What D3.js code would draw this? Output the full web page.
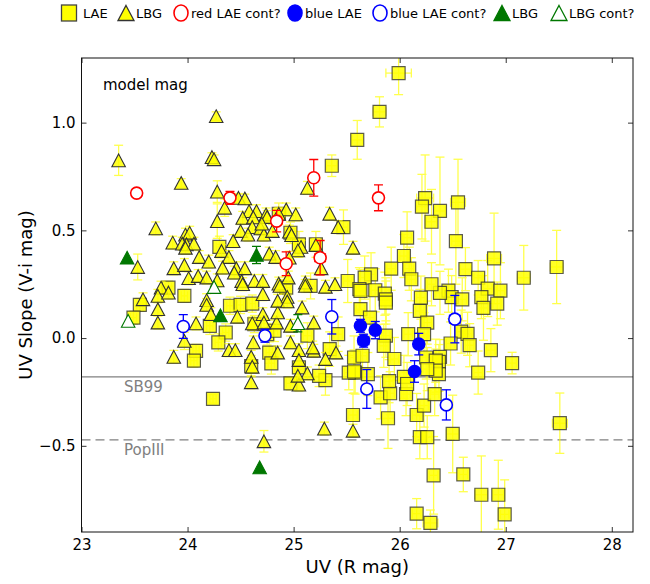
<!DOCTYPE html>
<html>
<head>
<meta charset="utf-8">
<script src="https://cdn.jsdelivr.net/npm/d3@7"></script>
<style>
  body { margin: 0; background: #fff; }
  svg { font-family: "DejaVu Sans", sans-serif; }
</style>
</head>
<body>
<script>
// [UV (R mag), UV slope, x error, y error]
var laePoints = [
  [25.99, 1.23, 0.12, 0.10], [25.81, 1.05, 0.06, 0.07], [25.60, 0.92, 0.05, 0.09],
  [25.36, 0.80, 0.05, 0.05], [26.24, 0.65, 0.08, 0.20], [26.21, 0.61, 0.05, 0.15],
  [26.38, 0.59, 0.05, 0.25], [26.55, 0.63, 0.07, 0.20], [26.30, 0.54, 0.05, 0.15],
  [26.53, 0.45, 0.04, 0.20], [26.89, 0.37, 0.07, 0.21], [26.62, 0.32, 0.05, 0.10],
  [26.74, 0.28, 0.04, 0.08], [27.17, 0.28, 0.06, 0.15], [27.48, 0.33, 0.06, 0.17],
  [26.83, 0.23, 0.04, 0.13], [26.95, 0.22, 0.04, 0.13], [26.46, 0.22, 0.04, 0.10],
  [26.49, 0.19, 0.04, 0.10], [26.59, 0.18, 0.04, 0.10], [26.38, 0.21, 0.04, 0.10],
  [26.77, 0.19, 0.04, 0.10], [26.92, 0.16, 0.04, 0.10], [26.79, 0.14, 0.04, 0.15],
  [26.58, 0.03, 0.04, 0.10], [26.64, 0.02, 0.04, 0.10], [26.48, -0.025, 0.04, 0.10],
  [26.66, -0.033, 0.04, 0.10], [26.86, -0.056, 0.04, 0.10], [27.06, -0.116, 0.04, 0.05],
  [26.38, -0.087, 0.04, 0.08], [26.37, -0.11, 0.04, 0.08], [26.74, -0.16, 0.04, 0.10],
  [26.37, -0.167, 0.04, 0.08], [27.51, -0.395, 0.07, 0.14], [26.50, -0.445, 0.06, 0.18],
  [26.19, -0.46, 0.04, 0.10], [26.26, -0.46, 0.04, 0.10], [26.32, -0.637, 0.04, 0.18],
  [26.60, -0.633, 0.04, 0.08], [26.77, -0.727, 0.06, 0.18], [26.93, -0.727, 0.05, 0.16],
  [26.16, -0.815, 0.04, 0.07], [26.29, -0.858, 0.07, 0.06], [26.99, -0.818, 0.04, 0.16],
  [25.89, -0.372, 0.06, 0.14], [26.16, -0.357, 0.04, 0.10], [26.23, -0.313, 0.04, 0.10],
  [26.33, -0.26, 0.04, 0.10], [26.06, -0.26, 0.04, 0.10], [25.82, -0.275, 0.04, 0.10],
  [25.91, -0.256, 0.04, 0.10], [25.56, -0.357, 0.04, 0.10], [25.90, -0.20, 0.04, 0.10],
  [26.04, -0.18, 0.04, 0.10], [26.07, -0.213, 0.04, 0.10], [25.70, -0.167, 0.04, 0.10],
  [25.58, -0.16, 0.04, 0.10], [24.24, -0.282, 0.03, 0.02], [24.97, -0.21, 0.04, 0.03],
  [25.30, -0.195, 0.04, 0.07], [25.24, -0.175, 0.04, 0.05], [24.60, -0.13, 0.03, 0.05],
  [25.52, -0.16, 0.04, 0.08], [25.47, 0.515, 0.04, 0.08], [26.07, 0.466, 0.04, 0.12],
  [26.04, 0.381, 0.04, 0.10], [26.09, 0.322, 0.04, 0.10], [26.11, 0.273, 0.04, 0.10],
  [25.92, 0.322, 0.04, 0.10], [25.73, 0.296, 0.04, 0.10], [25.67, 0.281, 0.04, 0.10],
  [25.51, 0.265, 0.04, 0.10], [25.62, 0.227, 0.04, 0.10], [25.77, 0.222, 0.04, 0.10],
  [25.86, 0.206, 0.04, 0.10], [25.87, 0.18, 0.04, 0.10], [25.16, 0.242, 0.04, 0.06],
  [25.05, 0.435, 0.04, 0.06], [25.21, 0.435, 0.04, 0.06], [24.97, 0.489, 0.04, 0.05],
  [24.86, 0.577, 0.04, 0.05], [24.93, 0.234, 0.04, 0.05], [23.82, 0.234, 0.03, 0.03],
  [23.97, 0.196, 0.03, 0.03], [24.30, 0.423, 0.03, 0.05], [23.55, 0.154, 0.03, 0.03],
  [23.49, 0.095, 0.03, 0.03], [24.21, 0.057, 0.03, 0.04], [24.36, 0.026, 0.03, 0.04],
  [24.29, -0.02, 0.03, 0.04], [24.08, -0.059, 0.03, 0.03], [24.06, -0.105, 0.03, 0.03],
  [24.40, 0.15, 0.03, 0.04], [24.50, 0.154, 0.03, 0.04], [24.61, 0.16, 0.03, 0.04],
  [24.63, 0.065, 0.03, 0.04], [24.77, -0.067, 0.03, 0.05], [24.79, -0.117, 0.03, 0.05],
  [24.75, 0.018, 0.03, 0.05], [24.82, 0.034, 0.03, 0.05], [25.13, 0.011, 0.04, 0.06],
  [25.05, -0.136, 0.04, 0.06], [25.42, 0.018, 0.04, 0.08], [25.34, -0.051, 0.04, 0.08],
  [25.57, -0.09, 0.04, 0.10], [25.57, -0.155, 0.04, 0.10], [25.63, 0.219, 0.04, 0.10],
  [25.87, 0.165, 0.04, 0.10], [25.63, 0.134, 0.04, 0.10], [25.72, 0.095, 0.04, 0.10],
  [25.87, 0.011, 0.04, 0.10], [25.85, -0.036, 0.04, 0.10], [25.65, -0.082, 0.04, 0.10],
  [26.08, 0.018, 0.04, 0.10], [26.19, 0.126, 0.04, 0.10], [26.20, 0.188, 0.04, 0.10],
  [26.26, 0.072, 0.04, 0.10], [26.23, 0.018, 0.04, 0.10], [26.25, -0.09, 0.04, 0.10],
  [26.34, -0.105, 0.04, 0.10], [26.34, -0.151, 0.04, 0.10], [26.26, -0.144, 0.04, 0.10],
  [26.30, 0.25, 0.04, 0.10], [25.95, -0.097, 0.04, 0.10]
];

var lbgPoints = [
  [23.35, 0.825, 0, 0.07], [24.23, 0.84, 0, 0.02], [24.25, 0.83, 0, 0.02], [24.27, 1.03, 0, 0.02],
  [23.94, 0.72, 0, 0.02], [24.28, 0.68, 0, 0.05], [24.48, 0.651, 0, 0.02], [24.54, 0.648, 0, 0.02],
  [24.35, 0.605, 0, 0.04], [24.58, 0.589, 0, 0.03], [24.65, 0.589, 0, 0.03], [24.52, 0.558, 0, 0.03],
  [24.62, 0.56, 0, 0.03], [24.74, 0.574, 0, 0.03], [24.28, 0.543, 0, 0.08], [23.70, 0.509, 0, 0.03],
  [24.61, 0.515, 0, 0.03], [24.69, 0.509, 0, 0.03], [24.50, 0.497, 0, 0.03], [24.57, 0.48, 0, 0.03],
  [23.98, 0.48, 0, 0.03], [24.02, 0.489, 0, 0.03], [24.72, 0.48, 0, 0.03], [24.43, 0.45, 0, 0.03],
  [23.86, 0.443, 0, 0.03], [23.95, 0.438, 0, 0.03], [23.99, 0.435, 0, 0.03], [24.06, 0.438, 0, 0.03],
  [23.98, 0.419, 0, 0.03], [24.11, 0.376, 0, 0.03], [24.20, 0.355, 0, 0.03], [24.32, 0.404, 0, 0.03],
  [24.39, 0.376, 0, 0.03], [24.33, 0.327, 0, 0.03], [24.46, 0.324, 0, 0.03], [24.54, 0.324, 0, 0.03],
  [24.44, 0.304, 0, 0.03], [23.87, 0.324, 0, 0.03], [23.97, 0.339, 0, 0.03], [23.53, 0.33, 0, 0.06],
  [24.01, 0.278, 0, 0.03], [24.10, 0.288, 0, 0.03], [24.18, 0.281, 0, 0.03], [24.28, 0.268, 0, 0.03],
  [24.51, 0.265, 0, 0.03], [24.63, 0.265, 0, 0.03], [24.71, 0.265, 0, 0.03], [23.75, 0.234, 0, 0.03],
  [23.72, 0.196, 0, 0.03], [23.82, 0.211, 0, 0.03], [23.58, 0.18, 0, 0.03], [24.18, 0.176, 0, 0.03],
  [24.71, 0.204, 0, 0.03], [25.13, 0.697, 0, 0.03], [25.34, 0.577, 0, 0.03], [25.42, 0.515, 0, 0.03],
  [24.93, 0.597, 0, 0.03], [25.02, 0.574, 0, 0.03], [24.86, 0.577, 0, 0.03], [24.75, 0.562, 0, 0.03],
  [24.70, 0.531, 0, 0.03], [24.80, 0.497, 0, 0.03], [24.96, 0.494, 0, 0.03], [24.98, 0.478, 0, 0.03],
  [25.56, 0.419, 0, 0.03], [25.21, 0.432, 0, 0.03], [25.07, 0.423, 0, 0.03], [25.04, 0.407, 0, 0.03],
  [24.77, 0.392, 0, 0.03], [24.83, 0.376, 0, 0.03], [24.96, 0.373, 0, 0.03], [25.26, 0.324, 0, 0.03],
  [24.86, 0.253, 0, 0.03], [24.95, 0.281, 0, 0.03], [25.11, 0.258, 0, 0.03], [25.30, 0.238, 0, 0.03],
  [25.39, 0.25, 0, 0.03], [24.94, 0.191, 0, 0.03], [23.72, 0.134, 0, 0.03], [23.72, 0.072, 0, 0.03],
  [24.08, 0.068, 0, 0.03], [23.87, -0.087, 0, 0.03], [23.97, -0.013, 0, 0.04], [24.18, 0.154, 0, 0.03],
  [24.22, 0.111, 0, 0.03], [24.47, 0.099, 0, 0.03], [24.39, -0.056, 0, 0.03], [24.45, -0.056, 0, 0.03],
  [24.61, 0.068, 0, 0.03], [24.62, -0.02, 0, 0.03], [24.60, -0.087, 0, 0.03], [24.61, -0.133, 0, 0.03],
  [24.60, -0.205, 0, 0.03], [24.71, 0.111, 0, 0.03], [24.72, 0.072, 0, 0.03], [24.84, 0.072, 0, 0.03],
  [24.85, 0.119, 0, 0.03], [24.85, 0.173, 0, 0.03], [24.87, 0.242, 0, 0.03], [24.85, -0.067, 0, 0.03],
  [24.94, 0.17, 0, 0.03], [24.97, -0.02, 0, 0.03], [25.05, -0.056, 0, 0.03], [25.05, -0.102, 0, 0.03],
  [25.11, 0.242, 0, 0.03], [25.08, 0.142, 0, 0.03], [25.19, 0.072, 0, 0.03], [25.19, -0.059, 0, 0.03],
  [25.13, -0.164, 0, 0.03], [25.30, -0.097, 0, 0.03], [25.40, -0.067, 0, 0.03], [24.52, 0.25, 0, 0.03],
  [25.18, -0.044, 0, 0.03], [24.97, 0.057, 0, 0.03], [25.05, -0.216, 0, 0.03], [25.04, -0.175, 0, 0.03],
  [25.29, -0.42, 0, 0.03], [25.56, -0.43, 0, 0.03], [24.72, -0.479, 0, 0.05]
];

var redLaeCont = [
  [23.52, 0.673, 0, 0], [24.40, 0.651, 0, 0.03], [25.19, 0.744, 0, 0.085], [25.80, 0.651, 0, 0.06],
  [24.84, 0.543, 0, 0.05], [25.25, 0.373, 0.05, 0.08], [24.93, 0.345, 0, 0.055]
];
var blueLae = [
  [25.63, 0.057, 0, 0.03], [25.77, 0.037, 0, 0.04], [25.66, -0.012, 0.05, 0.03],
  [26.18, -0.028, 0, 0.05], [26.14, -0.155, 0, 0.05]
];
var blueLaeCont = [
  [23.96, 0.054, 0, 0.055], [24.73, 0.011, 0, 0.03], [25.36, 0.099, 0, 0.08],
  [26.52, 0.088, 0.05, 0.11], [25.69, -0.236, 0, 0.09], [26.44, -0.31, 0.03, 0.07]
];
var lbgGreen = [
  [23.43, 0.373, 0, 0], [24.65, 0.386, 0, 0.04], [24.31, 0.106, 0, 0], [24.68, -0.60, 0, 0]
];
var lbgGreenCont = [
  [23.44, 0.08, 0, 0], [24.25, 0.237, 0, 0], [25.04, 0.069, 0, 0.04]
];

var xTicks = [23, 24, 25, 26, 27, 28];
var yTicks = [-0.5, 0.0, 0.5, 1.0];
var refLines = [{name: "SB99", value: -0.18, dash: null}, {name: "PopIII", value: -0.472, dash: "9,5"}];
var legendItems = [
  {label: "LAE", shape: "square", fill: "#ffff00", stroke: "#444", x: 69},
  {label: "LBG", shape: "tri", fill: "#ffff00", stroke: "#333", x: 126},
  {label: "red LAE cont?", shape: "circle", fill: "#fff", stroke: "#ff0000", x: 181},
  {label: "blue LAE", shape: "circle", fill: "#0000ff", stroke: "#0000ff", x: 295},
  {label: "blue LAE cont?", shape: "circle", fill: "#fff", stroke: "#0000ff", x: 380},
  {label: "LBG", shape: "tri", fill: "#007700", stroke: "#007700", x: 502},
  {label: "LBG cont?", shape: "tri", fill: "#fff", stroke: "#007700", x: 559}
];

var W = 650, H = 584;
var pLeft = 81.5, pRight = 633, pTop = 58, pBottom = 532;

var svg = d3.select("body").append("svg")
  .attr("width", W).attr("height", H);

var x = d3.scaleLinear().domain([23, 28.2]).range([pLeft, pRight]);
var y = d3.scaleLinear().domain([-0.9, 1.3]).range([pBottom, pTop]);

svg.append("clipPath").attr("id", "clip")
  .append("rect").attr("x", pLeft).attr("y", pTop)
  .attr("width", pRight - pLeft).attr("height", pBottom - pTop);

var plot = svg.append("g").attr("clip-path", "url(#clip)");

// reference lines
refLines.forEach(function(r) {
  plot.append("line")
    .attr("x1", pLeft).attr("x2", pRight)
    .attr("y1", y(r.value)).attr("y2", y(r.value))
    .attr("stroke", "#808080").attr("stroke-width", 1.3)
    .attr("stroke-dasharray", r.dash);
  svg.append("text")
    .attr("x", 124).attr("y", y(r.value) + 15)
    .attr("font-size", 15).attr("fill", "#808080")
    .text(r.name);
});

function trianglePath(s) {
  var h = s * 0.47;
  return "M0," + (-h) + "L" + (s / 2) + "," + h + "L" + (-s / 2) + "," + h + "Z";
}

function drawErrors(g, data, color, cap, width, opacity) {
  data.forEach(function(d) {
    var cx = x(d[0]), cy = y(d[1]);
    if (d[3] > 0) {
      var y1 = y(d[1] + d[3]), y2 = y(d[1] - d[3]);
      g.append("line").attr("x1", cx).attr("x2", cx).attr("y1", y1).attr("y2", y2);
      g.append("line").attr("x1", cx - cap).attr("x2", cx + cap).attr("y1", y1).attr("y2", y1);
      g.append("line").attr("x1", cx - cap).attr("x2", cx + cap).attr("y1", y2).attr("y2", y2);
    }
    if (d[2] > 0) {
      var x1 = x(d[0] - d[2]), x2 = x(d[0] + d[2]);
      g.append("line").attr("x1", x1).attr("x2", x2).attr("y1", cy).attr("y2", cy);
      g.append("line").attr("x1", x1).attr("x2", x1).attr("y1", cy - cap).attr("y2", cy + cap);
      g.append("line").attr("x1", x2).attr("x2", x2).attr("y1", cy - cap).attr("y2", cy + cap);
    }
  });
  g.attr("stroke", color).attr("stroke-width", width).attr("opacity", opacity);
}

function drawSeries(data, shape, fill, stroke, errColor) {
  var g = plot.append("g");
  drawErrors(g.append("g"), data, errColor, 4.5, 1.3, errColor == "#ffff00" ? 0.7 : 1);
  var m = g.append("g").selectAll("path").data(data).join("path")
    .attr("transform", function(d) { return "translate(" + x(d[0]) + "," + y(d[1]) + ")"; })
    .attr("fill", fill).attr("stroke", stroke);
  if (shape == "square") {
    m.attr("d", "M-6.5,-6.5H6.5V6.5H-6.5Z").attr("stroke-width", 1.2)
      .attr("fill-opacity", 0.85).attr("stroke-opacity", 0.8);
  } else if (shape == "tri") {
    m.attr("d", trianglePath(13.5)).attr("stroke-width", 1.1)
      .attr("fill-opacity", fill == "#ffff00" ? 0.85 : 1);
  } else {
    m.attr("d", d3.symbol(d3.symbolCircle, Math.PI * 36)).attr("stroke-width", 1.6);
  }
}

drawSeries(laePoints, "square", "#ffff00", "#333", "#ffff00");
drawSeries(lbgPoints, "tri", "#ffff00", "#333", "#ffff00");
drawSeries(redLaeCont, "circle", "#fff", "#ff0000", "#ff0000");
drawSeries(blueLae, "circle", "#0000ff", "#0000ff", "#0000ff");
drawSeries(blueLaeCont, "circle", "#fff", "#0000ff", "#0000ff");
drawSeries(lbgGreen, "tri", "#007700", "#007700", "#007700");
drawSeries(lbgGreenCont, "tri", "#fff", "#007700", "#007700");

// axes with inward ticks on all four sides
var axB = svg.append("g").attr("transform", "translate(0," + pBottom + ")")
  .call(d3.axisBottom(x).tickValues(xTicks).tickSize(-5).tickPadding(7).tickFormat(d3.format("d")));
var axT = svg.append("g").attr("transform", "translate(0," + pTop + ")")
  .call(d3.axisTop(x).tickValues(xTicks).tickSize(-5).tickFormat(""));
var axL = svg.append("g").attr("transform", "translate(" + pLeft + ",0)")
  .call(d3.axisLeft(y).tickValues(yTicks).tickSize(-5).tickPadding(6).tickFormat(d3.format(".1f")));
var axR = svg.append("g").attr("transform", "translate(" + pRight + ",0)")
  .call(d3.axisRight(y).tickValues(yTicks).tickSize(-5).tickFormat(""));

[axB, axT, axL, axR].forEach(function(a) {
  a.select(".domain").remove();
  a.selectAll(".tick line").attr("stroke", "#333").attr("stroke-width", 1);
  a.selectAll("text").attr("font-size", 15).attr("fill", "#000")
    .attr("font-family", "DejaVu Sans, sans-serif");
});

svg.append("rect")
  .attr("x", pLeft).attr("y", pTop)
  .attr("width", pRight - pLeft).attr("height", pBottom - pTop)
  .attr("fill", "none").attr("stroke", "#111").attr("stroke-width", 1);

svg.append("text").attr("x", (pLeft + pRight) / 2).attr("y", 573)
  .attr("text-anchor", "middle").attr("font-size", 18).text("UV (R mag)");
svg.append("text")
  .attr("transform", "translate(32," + ((pTop + pBottom) / 2) + ") rotate(-90)")
  .attr("text-anchor", "middle").attr("font-size", 18).text("UV Slope (V-i mag)");

svg.append("text").attr("x", 103).attr("y", 90).attr("font-size", 15).text("model mag");

// legend
var leg = svg.append("g").attr("transform", "translate(0,13)");
legendItems.forEach(function(it) {
  var g = leg.append("g").attr("transform", "translate(" + it.x + ",0)");
  if (it.shape == "square") {
    g.append("rect").attr("x", -7.5).attr("y", -8).attr("width", 15).attr("height", 16)
      .attr("fill", it.fill).attr("stroke", it.stroke).attr("stroke-width", 1.3);
  } else if (it.shape == "tri") {
    g.append("path").attr("d", trianglePath(16)).attr("fill", it.fill)
      .attr("stroke", it.stroke).attr("stroke-width", 1.3);
  } else {
    g.append("ellipse").attr("rx", 7).attr("ry", 8).attr("fill", it.fill)
      .attr("stroke", it.stroke).attr("stroke-width", 1.6);
  }
  g.append("text").attr("x", it.shape == "square" ? 14 : 10).attr("y", 5)
    .attr("font-size", 13).text(it.label);
});
</script>
</body>
</html>
